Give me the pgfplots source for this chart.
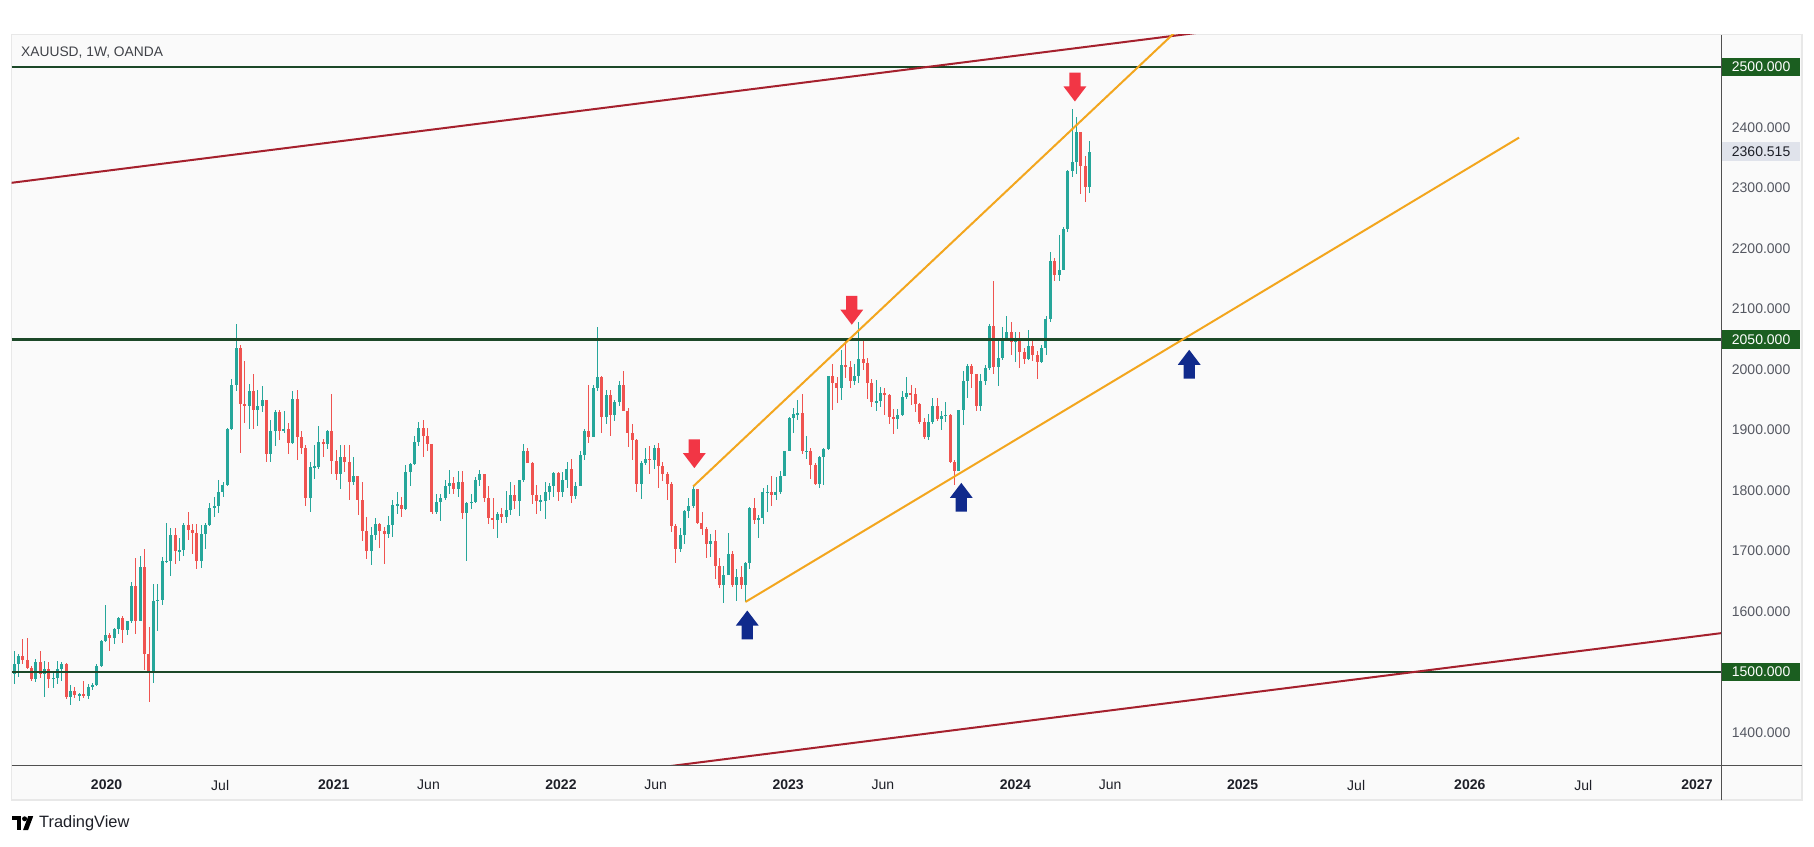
\documentclass[border=0pt]{standalone}
\usepackage{pgfplots}
\pgfplotsset{compat=1.18}
\usepackage{pgfplotstable}
\usepackage{fontspec}
\setmainfont{Liberation Sans}
\definecolor{tvgreen}{RGB}{38,166,154}
\definecolor{tvred}{RGB}{239,83,80}
\definecolor{hline}{RGB}{28,72,40}
\definecolor{chred}{RGB}{165,32,45}
\definecolor{tlorange}{RGB}{243,166,30}
\definecolor{arrred}{RGB}{242,54,69}
\definecolor{arrblue}{RGB}{16,42,140}
\definecolor{lblgreen}{RGB}{27,94,32}
\definecolor{lblgray}{RGB}{224,227,235}
\definecolor{panelbg}{RGB}{250,250,250}
\definecolor{panelbd}{RGB}{232,232,232}
\definecolor{axisln}{RGB}{80,80,80}
\definecolor{ticktxt}{RGB}{85,88,98}
\definecolor{darktxt}{RGB}{30,32,40}

\pgfdeclareplotmark{tvdown}{%
 \pgfpathmoveto{\pgfqpoint{-2.8pt}{7.2pt}}%
 \pgfpathlineto{\pgfqpoint{2.8pt}{7.2pt}}%
 \pgfpathlineto{\pgfqpoint{2.8pt}{0.3pt}}%
 \pgfpathlineto{\pgfqpoint{5.7pt}{0.3pt}}%
 \pgfpathlineto{\pgfqpoint{0pt}{-7.2pt}}%
 \pgfpathlineto{\pgfqpoint{-5.7pt}{0.3pt}}%
 \pgfpathlineto{\pgfqpoint{-2.8pt}{0.3pt}}%
 \pgfpathclose\pgfusepathqfill}
\pgfdeclareplotmark{tvup}{%
 \pgfpathmoveto{\pgfqpoint{-2.8pt}{-7.2pt}}%
 \pgfpathlineto{\pgfqpoint{2.8pt}{-7.2pt}}%
 \pgfpathlineto{\pgfqpoint{2.8pt}{-0.3pt}}%
 \pgfpathlineto{\pgfqpoint{5.7pt}{-0.3pt}}%
 \pgfpathlineto{\pgfqpoint{0pt}{7.2pt}}%
 \pgfpathlineto{\pgfqpoint{-5.7pt}{-0.3pt}}%
 \pgfpathlineto{\pgfqpoint{-2.8pt}{-0.3pt}}%
 \pgfpathclose\pgfusepathqfill}

\pgfplotsset{candle/.style={draw=none, mark=none, forget plot,
    error bars/y dir=both, error bars/y explicit, error bars/error mark=none}}

\pgfplotstableread{
w o h l c
0 1497 1535 1480 1513
1 1513 1530 1492 1527
2 1527 1555 1513 1520
3 1520 1557 1505 1507
4 1507 1510 1485 1488
5 1488 1522 1484 1517
6 1517 1535 1490 1497
7 1497 1519 1459 1505
8 1505 1516 1474 1489
9 1489 1499 1474 1490
10 1490 1518 1480 1505
11 1505 1516 1486 1514
12 1514 1515 1456 1459
13 1459 1478 1445 1468
14 1468 1475 1457 1462
15 1462 1466 1452 1464
16 1464 1485 1458 1460
17 1460 1481 1456 1476
18 1476 1482 1470 1478
19 1478 1514 1477 1510
20 1510 1553 1508 1552
21 1552 1611 1549 1562
22 1562 1564 1535 1557
23 1557 1573 1546 1571
24 1571 1591 1563 1589
25 1589 1592 1548 1570
26 1570 1584 1562 1584
27 1584 1649 1581 1643
28 1643 1689 1563 1585
29 1585 1692 1585 1673
30 1673 1703 1504 1530
31 1530 1575 1451 1498
32 1498 1645 1482 1617
33 1617 1645 1568 1620
34 1620 1690 1611 1683
35 1683 1747 1680 1683
36 1683 1738 1659 1727
37 1727 1739 1678 1700
38 1700 1722 1683 1702
39 1702 1747 1692 1743
40 1743 1765 1718 1735
41 1735 1745 1695 1730
42 1730 1745 1670 1683
43 1683 1744 1672 1729
44 1729 1747 1704 1743
45 1743 1779 1742 1771
46 1771 1789 1756 1775
47 1775 1818 1763 1798
48 1798 1814 1790 1810
49 1810 1904 1807 1902
50 1902 1984 1900 1975
51 1975 2075 1964 2035
52 2035 2040 1863 1944
53 1944 2015 1911 1940
54 1940 1977 1902 1964
55 1964 1992 1902 1934
56 1934 1966 1906 1940
57 1940 1973 1930 1950
58 1950 1950 1848 1861
59 1861 1917 1848 1899
60 1899 1933 1873 1930
61 1930 1933 1883 1899
62 1899 1931 1895 1902
63 1902 1911 1860 1879
64 1879 1965 1877 1951
65 1951 1966 1850 1889
66 1889 1898 1860 1871
67 1871 1875 1774 1788
68 1788 1848 1765 1839
69 1839 1875 1820 1839
70 1839 1906 1836 1881
71 1881 1885 1855 1877
72 1877 1900 1868 1898
73 1898 1959 1827 1849
74 1849 1867 1817 1828
75 1828 1875 1802 1855
76 1855 1875 1830 1848
77 1848 1875 1785 1814
78 1814 1855 1810 1824
79 1824 1824 1760 1784
80 1784 1815 1717 1734
81 1734 1757 1687 1700
82 1700 1740 1677 1727
83 1727 1755 1718 1745
84 1745 1746 1705 1733
85 1733 1740 1678 1729
86 1729 1758 1722 1744
87 1744 1785 1724 1777
88 1777 1797 1761 1777
89 1777 1790 1756 1769
90 1769 1843 1768 1831
91 1831 1845 1808 1844
92 1844 1890 1843 1881
93 1881 1913 1874 1903
94 1903 1916 1855 1891
95 1891 1903 1866 1877
96 1877 1877 1761 1764
97 1764 1795 1761 1781
98 1781 1795 1750 1787
99 1787 1818 1784 1808
100 1808 1834 1794 1812
101 1812 1823 1794 1802
102 1802 1832 1790 1814
103 1814 1832 1753 1763
104 1763 1782 1684 1780
105 1780 1795 1770 1781
106 1781 1823 1780 1818
107 1818 1834 1808 1827
108 1827 1828 1782 1788
109 1788 1808 1745 1754
110 1754 1787 1737 1751
111 1751 1765 1721 1761
112 1761 1772 1746 1757
113 1757 1800 1746 1768
114 1768 1814 1760 1793
115 1793 1810 1770 1783
116 1783 1818 1758 1818
117 1818 1877 1815 1865
118 1865 1870 1846 1846
119 1846 1848 1778 1792
120 1792 1809 1762 1783
121 1783 1793 1766 1783
122 1783 1815 1753 1798
123 1798 1813 1785 1808
124 1808 1831 1789 1829
125 1829 1831 1783 1797
126 1797 1830 1790 1818
127 1818 1848 1805 1835
128 1835 1853 1780 1791
129 1791 1815 1786 1808
130 1808 1865 1808 1859
131 1859 1902 1850 1898
132 1898 1974 1878 1889
133 1889 1974 1889 1970
134 1970 2070 1965 1988
135 1988 1989 1895 1921
136 1921 1966 1910 1958
137 1958 1966 1890 1925
138 1925 1950 1915 1947
139 1947 1981 1940 1975
140 1975 1998 1931 1931
141 1931 1936 1872 1896
142 1896 1910 1850 1883
143 1883 1886 1797 1811
144 1811 1849 1786 1846
145 1846 1870 1843 1853
146 1853 1874 1828 1851
147 1851 1875 1836 1871
148 1871 1879 1805 1840
149 1840 1847 1816 1827
150 1827 1830 1785 1811
151 1811 1815 1732 1742
152 1742 1745 1681 1703
153 1703 1739 1698 1727
154 1727 1768 1711 1766
155 1766 1788 1754 1775
156 1775 1807 1771 1802
157 1802 1802 1745 1747
158 1747 1765 1727 1737
159 1737 1740 1688 1712
160 1712 1729 1691 1716
161 1716 1735 1654 1675
162 1675 1688 1639 1644
163 1644 1676 1615 1661
164 1661 1730 1660 1695
165 1695 1700 1641 1644
166 1644 1670 1618 1657
167 1657 1675 1638 1644
168 1644 1682 1616 1681
169 1681 1773 1670 1771
170 1771 1787 1745 1751
171 1751 1760 1721 1755
172 1755 1804 1745 1797
173 1797 1810 1764 1797
174 1797 1824 1774 1793
175 1793 1823 1784 1798
176 1798 1833 1795 1824
177 1824 1865 1824 1865
178 1865 1922 1865 1920
179 1920 1937 1896 1926
180 1926 1949 1917 1928
181 1928 1959 1861 1865
182 1865 1890 1853 1865
183 1865 1870 1819 1842
184 1842 1845 1809 1811
185 1811 1858 1805 1856
186 1856 1870 1809 1868
187 1868 1990 1867 1989
188 1989 2009 1934 1978
189 1978 1987 1945 1969
190 1969 2032 1950 2008
191 2008 2048 1986 2004
192 2004 2015 1969 1982
193 1982 2009 1974 1990
194 1990 2079 1978 2017
195 2017 2048 2000 2011
196 2011 2020 1952 1978
197 1978 1985 1938 1946
198 1946 1983 1932 1948
199 1948 1971 1938 1961
200 1961 1970 1925 1958
201 1958 1959 1910 1921
202 1921 1935 1893 1919
203 1919 1935 1902 1925
204 1925 1964 1923 1955
205 1955 1987 1952 1962
206 1962 1974 1942 1959
207 1959 1970 1930 1943
208 1943 1945 1910 1914
209 1914 1920 1885 1889
210 1889 1926 1884 1914
211 1914 1953 1910 1940
212 1940 1953 1915 1919
213 1919 1932 1900 1924
214 1924 1947 1913 1925
215 1925 1926 1846 1848
216 1848 1850 1810 1833
217 1833 1934 1833 1933
218 1933 1997 1908 1981
219 1981 2009 1953 2006
220 2006 2010 1970 1993
221 1993 1993 1932 1940
222 1940 1993 1931 1981
223 1981 2008 1975 2002
224 2002 2075 1999 2072
225 2072 2146 1993 2004
226 2004 2047 1973 2019
227 2019 2071 2016 2053
228 2053 2088 2049 2063
229 2063 2078 2024 2045
230 2045 2062 2013 2049
231 2049 2062 2002 2029
232 2029 2036 2009 2018
233 2018 2065 2016 2039
234 2039 2048 2015 2024
235 2024 2030 1984 2013
236 2013 2041 2011 2035
237 2035 2088 2024 2083
238 2083 2195 2079 2179
239 2179 2185 2146 2156
240 2156 2223 2146 2165
241 2165 2236 2165 2233
242 2233 2330 2228 2329
243 2329 2431 2318 2344
244 2344 2418 2324 2392
245 2392 2392 2291 2337
246 2337 2353 2277 2302
247 2302 2378 2292 2360.515
}\gold

\begin{document}
\begin{tikzpicture}
\useasboundingbox (0,0) rectangle (907pt,423pt);
\fill[white] (0,0) rectangle (907pt,423pt);
\filldraw[fill=panelbg, draw=panelbd, line width=0.6pt] (5.8pt,23pt) rectangle (901pt,405.65pt);
\begin{axis}[
  at={(5.8pt,40.05pt)}, anchor=south west,
  scale only axis, width=854.95pt, height=365.6pt,
  xmin=2019.582, xmax=2027.108, ymin=1345, ymax=2553.6,
  axis line style={draw=none},
  tick style={draw=none},
  major tick length=0pt,
  clip mode=individual,
  scaled x ticks=false, scaled y ticks=false,
  ytick={1400,1600,1700,1800,1900,2000,2100,2200,2300,2400},
  yticklabel pos=right,
  yticklabel style={anchor=west, inner xsep=5pt, inner ysep=2.2pt, text=ticktxt,
    font=\fontsize{7}{8}\selectfont,
    /pgf/number format/fixed, /pgf/number format/fixed zerofill,
    /pgf/number format/precision=3, /pgf/number format/1000 sep={},
    /pgf/number format/assume math mode=true},
  extra y ticks={1500,2050,2500},
  extra y tick style={yticklabel style={fill=lblgreen, text=white}},
  xtick={2020,2020.5,2021,2021.417,2022,2022.417,2023,2023.417,2024,2024.417,2025,2025.5,2026,2026.5,2027},
  xticklabels={\textbf{2020},Jul,\textbf{2021},Jun,\textbf{2022},Jun,\textbf{2023},Jun,\textbf{2024},Jun,\textbf{2025},Jul,\textbf{2026},Jul,\textbf{2027}},
  xticklabel style={font=\fontsize{7}{8}\selectfont, text=darktxt, yshift=-3.5pt},
]
% up candles: wicks and bodies
\addplot[candle,
  restrict expr to domain={\thisrow{c}-\thisrow{o}}{0:10000},
  error bars/error bar style={line width=0.45pt, draw=tvgreen}]
  table[x expr={2019.5926+0.019165*\thisrow{w}}, y expr={0.5*(\thisrow{h}+\thisrow{l})}, y error expr={0.5*(\thisrow{h}-\thisrow{l})}] {\gold};
\addplot[candle,
  restrict expr to domain={\thisrow{c}-\thisrow{o}}{0:10000},
  error bars/error bar style={line width=1.5pt, draw=tvgreen}]
  table[x expr={2019.5926+0.019165*\thisrow{w}}, y expr={0.5*(\thisrow{o}+\thisrow{c})}, y error expr={max(0.5*abs(\thisrow{c}-\thisrow{o}),0.9)}] {\gold};
% down candles
\addplot[candle,
  restrict expr to domain={\thisrow{o}-\thisrow{c}}{0.01:10000},
  error bars/error bar style={line width=0.45pt, draw=tvred}]
  table[x expr={2019.5926+0.019165*\thisrow{w}}, y expr={0.5*(\thisrow{h}+\thisrow{l})}, y error expr={0.5*(\thisrow{h}-\thisrow{l})}] {\gold};
\addplot[candle,
  restrict expr to domain={\thisrow{o}-\thisrow{c}}{0.01:10000},
  error bars/error bar style={line width=1.5pt, draw=tvred}]
  table[x expr={2019.5926+0.019165*\thisrow{w}}, y expr={0.5*(\thisrow{o}+\thisrow{c})}, y error expr={max(0.5*abs(\thisrow{c}-\thisrow{o}),0.9)}] {\gold};
% horizontal levels
\addplot[hline, line width=1.15pt] coordinates {(2019.582,2500) (2027.108,2500)};
\addplot[hline, line width=1.15pt] coordinates {(2019.582,2050) (2027.108,2050)};
\addplot[hline, line width=1.15pt] coordinates {(2019.582,1500) (2027.108,1500)};
% dark red channel
\addplot[chred, line width=1pt] coordinates {(2019.582,2308.8) (2027.108,2666.3)};
\addplot[chred, line width=1pt] coordinates {(2019.582,1207) (2027.108,1564.5)};
% orange trend lines
\addplot[tlorange, line width=1pt] coordinates {(2022.582,1807) (2024.78,2585)};
\addplot[tlorange, line width=1pt] coordinates {(2022.812,1616) (2026.217,2383.5)};
% arrows
\addplot[only marks, mark=tvdown, color=arrred] coordinates {(2022.587,1861) (2023.280,2098) (2024.262,2467)};
\addplot[only marks, mark=tvup, color=arrblue] coordinates {(2022.820,1578) (2023.762,1789) (2024.765,2009)};
\node[anchor=west, fill=lblgray, text=darktxt, inner xsep=5pt, inner ysep=2.2pt, font=\fontsize{7}{8}\selectfont] at (axis cs:2027.108,2360.515) {2360.515};
\end{axis}
\draw[axisln, line width=0.5pt] (5.8pt,40.05pt) -- (901pt,40.05pt);
\draw[axisln, line width=0.5pt] (860.75pt,23pt) -- (860.75pt,405.65pt);
\node[anchor=west, inner sep=0pt, text=darktxt!85, font=\fontsize{6.9}{8}\selectfont] at (10.4pt,396.5pt) {XAUUSD, 1W, OANDA};
% TradingView logo
\fill[black] (5.8pt,12.9pt) rectangle (10.6pt,14.9pt);
\fill[black] (8.5pt,7.9pt) rectangle (10.6pt,14.9pt);
\fill[black] (12.3pt,13.6pt) circle (1.25pt);
\fill[black] (14.1pt,14.9pt) -- (16.6pt,14.9pt) -- (14.0pt,7.9pt) -- (11.5pt,7.9pt) -- cycle;
\node[anchor=west, inner sep=0pt, text=darktxt, font=\fontsize{8.2}{9}\selectfont] at (19.4pt,11.3pt) {TradingView};
\end{tikzpicture}
\end{document}
